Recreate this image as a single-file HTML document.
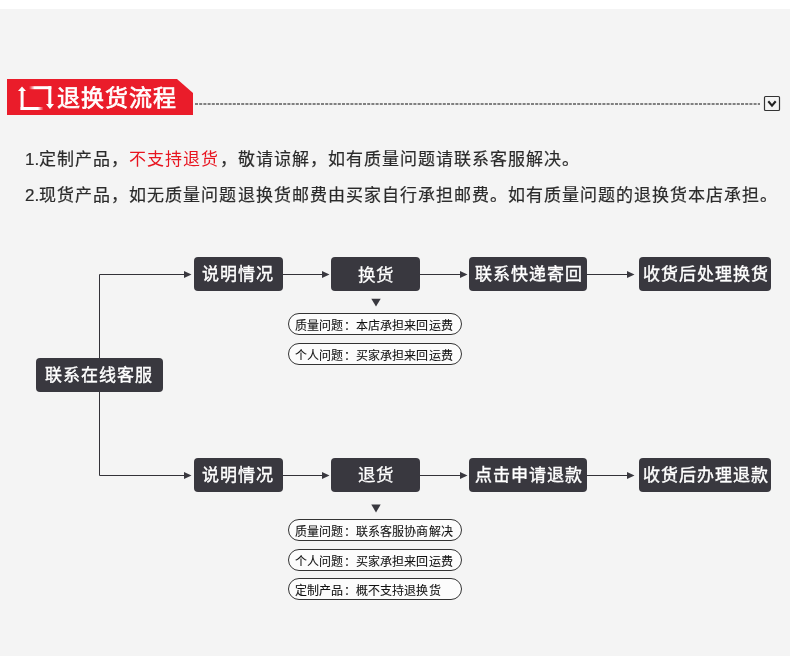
<!DOCTYPE html>
<html lang="zh-CN">
<head>
<meta charset="utf-8">
<style>
html,body{margin:0;padding:0;}
body{width:790px;height:669px;background:#fff;position:relative;overflow:hidden;font-family:"Liberation Sans",sans-serif;}
.bg{position:absolute;left:0;top:9px;width:790px;height:647px;background:#f4f4f4;}
.abs{position:absolute;}
.title,.p,.box,.pill{will-change:transform;}
.title{position:absolute;left:56.5px;top:81px;height:34px;line-height:34px;font-size:23px;letter-spacing:1px;font-weight:400;-webkit-text-stroke:0.7px #fff;color:#fff;white-space:nowrap;}
.p{position:absolute;left:24.5px;font-size:17px;letter-spacing:1.03px;line-height:24px;color:#2b2b2b;-webkit-text-stroke:0.2px #2b2b2b;white-space:nowrap;}
.num{letter-spacing:0;}
.red{color:#e8141f;-webkit-text-stroke:0;}
.box{position:absolute;height:34px;line-height:36px;background:#39383f;border-radius:4px;color:#fff;font-size:17px;letter-spacing:1px;text-indent:0.5px;font-weight:400;-webkit-text-stroke:0.4px #fff;text-align:center;white-space:nowrap;}
.box.thin{-webkit-text-stroke:0.25px #fff;font-size:17.5px;letter-spacing:0.5px;text-indent:0;line-height:37px;}
.pill{position:absolute;left:288px;width:172px;height:20px;line-height:21px;border:1px solid #333;border-radius:11px;background:#fcfcfc;font-size:12px;letter-spacing:0.15px;-webkit-text-stroke:0.08px #111;color:#111;white-space:nowrap;box-sizing:content-box;}
.pill span{position:absolute;left:6px;top:1.5px;}
</style>
</head>
<body>
<div class="bg"></div>

<svg class="abs" style="left:0;top:0" width="790" height="669" viewBox="0 0 790 669">
  <!-- red banner -->
  <polygon points="7,79 177,79 193,93 193,115 7,115" fill="#ea1c2a"/>
  <defs>
    <linearGradient id="gb" x1="0" x2="1" y1="0" y2="0">
      <stop offset="0.75" stop-color="#fff"/>
      <stop offset="1" stop-color="#fff" stop-opacity="0"/>
    </linearGradient>
    <linearGradient id="gt" x1="1" x2="0" y1="0" y2="0">
      <stop offset="0.75" stop-color="#fff"/>
      <stop offset="1" stop-color="#fff" stop-opacity="0"/>
    </linearGradient>
  </defs>
  <!-- icon -->
  <polygon points="22,86.5 26,91 18,91" fill="#fff"/>
  <rect x="20.6" y="90" width="3" height="20" fill="#fff"/>
  <rect x="20.6" y="107" width="23" height="3" fill="url(#gb)"/>
  <rect x="29" y="86.2" width="22.3" height="3" fill="url(#gt)"/>
  <rect x="48.3" y="86.2" width="3" height="19" fill="#fff"/>
  <polygon points="46,104 54,104 50,109" fill="#fff"/>
  <!-- dashed line -->
  <line x1="195" y1="104" x2="760" y2="104" stroke="#5a5a5a" stroke-width="1.3" stroke-dasharray="3,1.2"/>
  <!-- checkbox -->
  <rect x="764.5" y="96.5" width="15" height="14" rx="1" fill="none" stroke="#333" stroke-width="1.2"/>
  <polyline points="768.3,101.2 772,105.6 775.7,101.2" fill="none" stroke="#222" stroke-width="2.1"/>

  <!-- flow lines -->
  <g stroke="#333238" stroke-width="1" fill="none">
    <polyline points="186,274.5 99.5,274.5 99.5,475.5 186,475.5"/>
    <line x1="283" y1="274.5" x2="324" y2="274.5"/>
    <line x1="420" y1="274.5" x2="462" y2="274.5"/>
    <line x1="586" y1="274.5" x2="629" y2="274.5"/>
    <line x1="283" y1="475.5" x2="324" y2="475.5"/>
    <line x1="420" y1="475.5" x2="462" y2="475.5"/>
    <line x1="586" y1="475.5" x2="629" y2="475.5"/>
  </g>
  <g fill="#39383f">
    <polygon points="184,271 191.5,274.5 184,278"/>
    <polygon points="322,271 329.5,274.5 322,278"/>
    <polygon points="460,271 467.5,274.5 460,278"/>
    <polygon points="627,271 634.5,274.5 627,278"/>
    <polygon points="184,472 191.5,475.5 184,479"/>
    <polygon points="322,472 329.5,475.5 322,479"/>
    <polygon points="460,472 467.5,475.5 460,479"/>
    <polygon points="627,472 634.5,475.5 627,479"/>
    <polygon points="371.3,298.7 380.7,298.7 376,306.5"/>
    <polygon points="371.3,504.5 380.7,504.5 376,512.5"/>
  </g>
</svg>

<div class="title">退换货流程</div>

<div class="p" style="top:147.5px"><span class="num">1.</span>定制产品，<span class="red">不支持退货</span>，敬请谅解，如有质量问题请联系客服解决。</div>
<div class="p" style="top:183.5px"><span class="num">2.</span>现货产品，如无质量问题退换货邮费由买家自行承担邮费。如有质量问题的退换货本店承担。</div>

<div class="box" style="left:36px;top:358px;width:127px;text-indent:-1px">联系在线客服</div>

<div class="box" style="left:194px;top:257px;width:89px;text-indent:-0.5px">说明情况</div>
<div class="box thin" style="left:331px;top:257px;width:89px">换货</div>
<div class="box" style="left:469px;top:257px;width:118px;text-indent:2.5px">联系快递寄回</div>
<div class="box" style="left:639px;top:257px;width:132px;text-indent:2px">收货后处理换货</div>

<div class="pill" style="top:313px"><span>质量问题：本店承担来回运费</span></div>
<div class="pill" style="top:343px"><span>个人问题：买家承担来回运费</span></div>

<div class="box" style="left:194px;top:458px;width:89px;text-indent:-0.5px">说明情况</div>
<div class="box thin" style="left:331px;top:458px;width:89px;line-height:35px">退货</div>
<div class="box" style="left:469px;top:458px;width:118px;text-indent:2.5px">点击申请退款</div>
<div class="box" style="left:639px;top:458px;width:132px;text-indent:2px">收货后办理退款</div>

<div class="pill" style="top:519px"><span>质量问题：联系客服协商解决</span></div>
<div class="pill" style="top:549px"><span>个人问题：买家承担来回运费</span></div>
<div class="pill" style="top:578px"><span>定制产品：概不支持退换货</span></div>

</body>
</html>
